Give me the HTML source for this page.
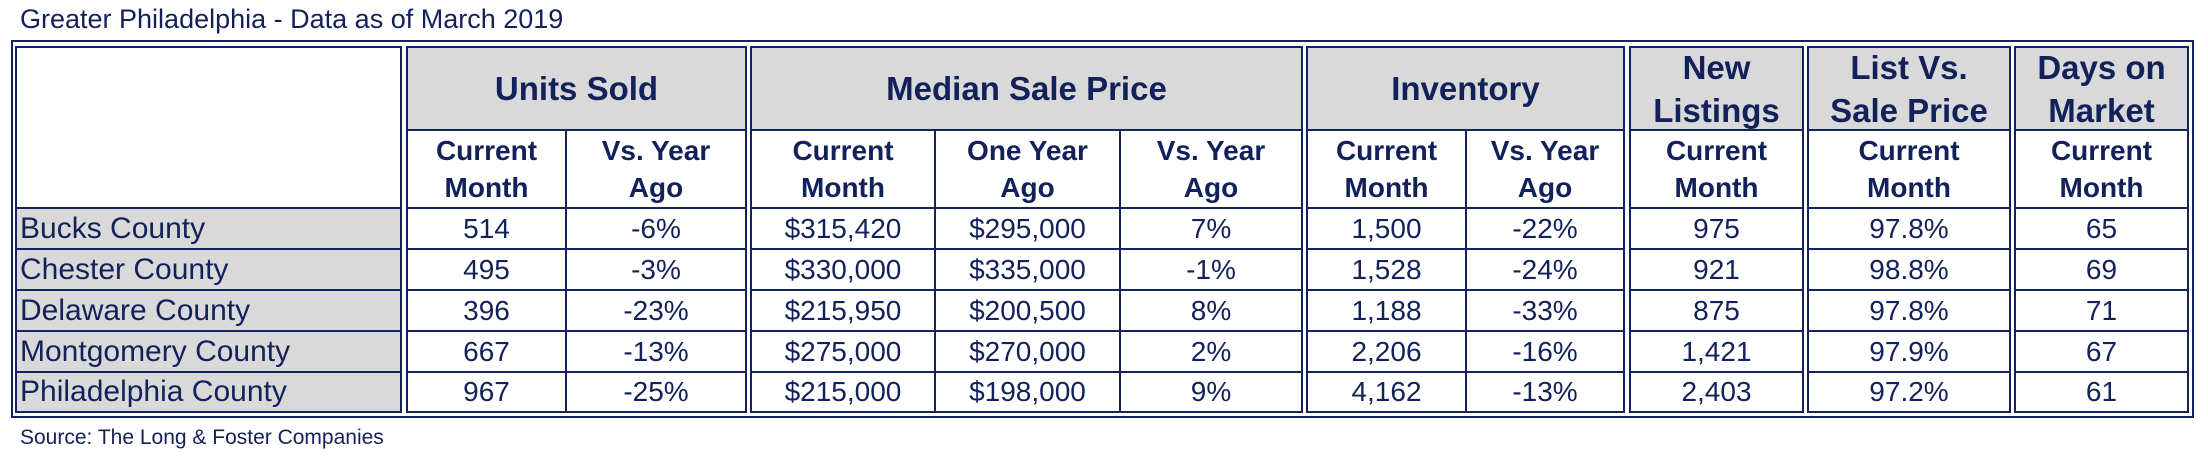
<!DOCTYPE html>
<html><head><meta charset="utf-8">
<style>
body{margin:0;background:#fff;width:2208px;height:458px;overflow:hidden;position:relative;font-family:"Liberation Sans",Arial,sans-serif;color:#13215a}
.c{position:absolute;box-sizing:border-box;border:2.5px solid #13235f;display:flex;align-items:center;justify-content:center;text-align:center}
.g{background:#d9d9d9}
.hd{font-weight:bold;font-size:33px;line-height:43px}
.sh{font-weight:bold;font-size:28px;line-height:37px}
.dt{font-size:28px}
.lb{justify-content:flex-start;padding-left:3px;font-size:30px}
</style></head><body>
<div style="position:absolute;left:20px;top:4px;font-size:27px;">Greater Philadelphia - Data as of March 2019</div>
<div style="position:absolute;left:11px;top:40px;width:2183px;height:378px;box-sizing:border-box;border:2.5px solid #13235f"></div>
<div id="tbl"></div>
<div style="position:absolute;left:20px;top:426px;font-size:21px;">Source: The Long &amp; Foster Companies</div>
<script>
const counties=["Bucks County","Chester County","Delaware County","Montgomery County","Philadelphia County"];
const unitsSold=["514","495","396","667","967"];
const unitsVsYear=["-6%","-3%","-23%","-13%","-25%"];
const medianCurrent=["$315,420","$330,000","$215,950","$275,000","$215,000"];
const medianYearAgo=["$295,000","$335,000","$200,500","$270,000","$198,000"];
const medianVsYear=["7%","-1%","8%","2%","9%"];
const invCurrent=["1,500","1,528","1,188","2,206","4,162"];
const invVsYear=["-22%","-24%","-33%","-16%","-13%"];
const newListings=["975","921","875","1,421","2,403"];
const listVsSale=["97.8%","98.8%","97.8%","97.9%","97.2%"];
const daysOnMarket=["65","69","71","67","61"];
const groupLabels=["Units Sold","Median Sale Price","Inventory","New<br>Listings","List Vs.<br>Sale Price","Days on<br>Market"];
const subLabels=["Current<br>Month","Vs. Year<br>Ago","Current<br>Month","One Year<br>Ago","Vs. Year<br>Ago","Current<br>Month","Vs. Year<br>Ago","Current<br>Month","Current<br>Month","Current<br>Month"];
const series=[unitsSold,unitsVsYear,medianCurrent,medianYearAgo,medianVsYear,invCurrent,invVsYear,newListings,listVsSale,daysOnMarket];

const colX=[[407,566],[566,746],[751,935],[935,1120],[1120,1302],[1307,1466],[1466,1624],[1630,1803],[1808,2010],[2015,2188]];
const grpX=[[407,746],[751,1302],[1307,1624],[1630,1803],[1808,2010],[2015,2188]];
const rowY=[208,249,290,331,372,412];
const T=document.getElementById('tbl');
function cell(x0,y0,x1,y1,cls,html){
  const d=document.createElement('div');
  d.className='c '+cls;
  d.style.left=(x0-1)+'px';d.style.top=(y0-1)+'px';
  d.style.width=(x1-x0+2)+'px';d.style.height=(y1-y0+2)+'px';
  d.innerHTML=html;T.appendChild(d);return d;
}
let e=cell(16,47,401,208,'','');


grpX.forEach((g,i)=>{
  const two=i>=3;
  const el=cell(g[0],47,g[1],130,'g hd',groupLabels[i]);
  
  
});
colX.forEach((c,i)=>{
  const el=cell(c[0],130,c[1],208,'sh',subLabels[i]);
  
  
});
counties.forEach((n,r)=>{
  const el=cell(16,rowY[r],401,rowY[r+1],'g lb',n);
  
  
  series.forEach((s,i)=>{
    const d=cell(colX[i][0],rowY[r],colX[i][1],rowY[r+1],'dt',s[r]);
    
    
  });
});
</script>
</body></html>
